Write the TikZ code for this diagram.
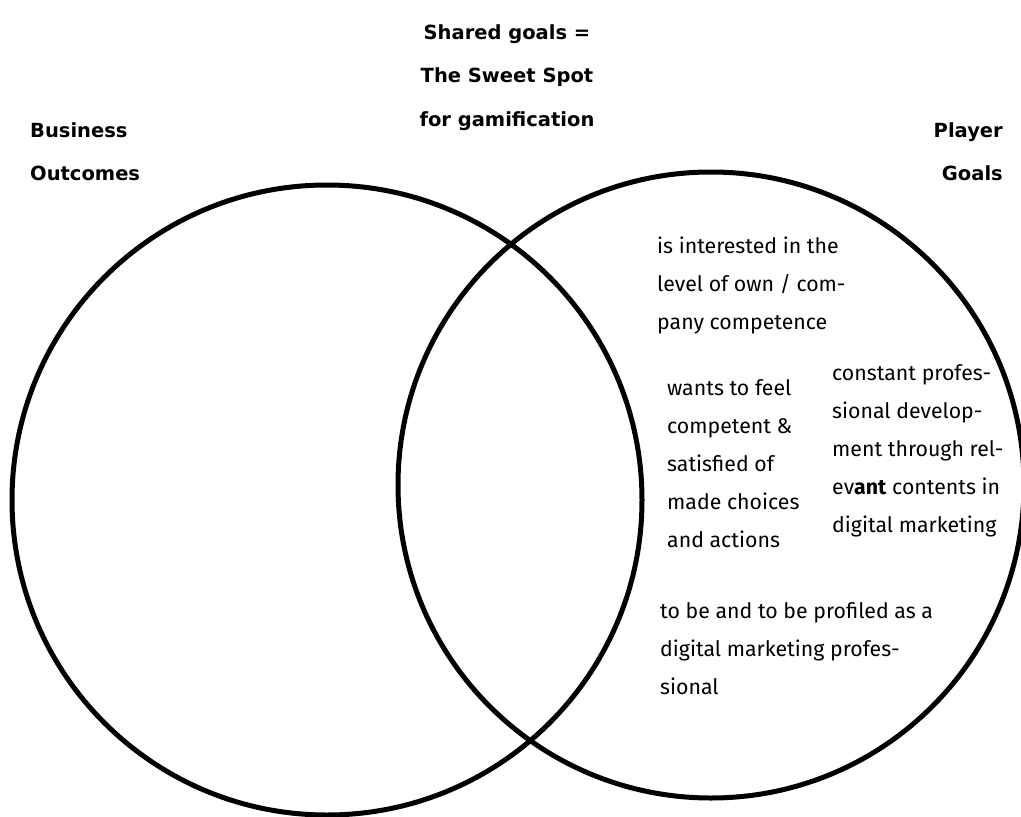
\documentclass[tikz,border=0pt]{standalone}
\usepackage{fontspec}
\setmainfont{Fira Sans}
\newfontfamily\headfont{DejaVu Sans}
\begin{document}
\begin{tikzpicture}[x=1pt,y=-1pt,
  ring/.style={draw=black,line width=5pt},
  heading/.style={font=\headfont\fontsize{19.5}{43.5}\selectfont\bfseries,inner sep=0pt},
  note/.style={font=\fontsize{21.3}{38}\selectfont,inner sep=0pt,align=left,anchor=north west}]
\useasboundingbox (0,0) rectangle (1021,817);
% the two overlapping sets
\node[ring,circle,minimum size=630pt,inner sep=0pt] (business) at (327,500) {};
\node[ring,circle,minimum size=626pt,inner sep=0pt] (player) at (711,485) {};
% headings
\node[heading,align=center,anchor=north] (shared) at (507,24) {Shared goals =\\The Sweet Spot\\for gamification};
\node[heading,align=left,anchor=north west] (bizlabel) at (30,122) {Business\\Outcomes};
\node[heading,align=right,anchor=north east] (playerlabel) at (1003,122) {Player\\Goals};
% player goals
\node[note] (interest) at (657,237) {is interested in the\\level of own / com-\\pany competence};
\node[note] (feel) at (667,379) {wants to feel\\competent \&\\satisfied of\\made choices\\and actions};
\node[note] (develop) at (832,364) {constant profes-\\sional develop-\\ment through rel-\\ev\textbf{ant} contents in\\digital marketing};
\node[note] (profile) at (660,602) {to be and to be profiled as a\\digital marketing profes-\\sional};
\end{tikzpicture}
\end{document}
